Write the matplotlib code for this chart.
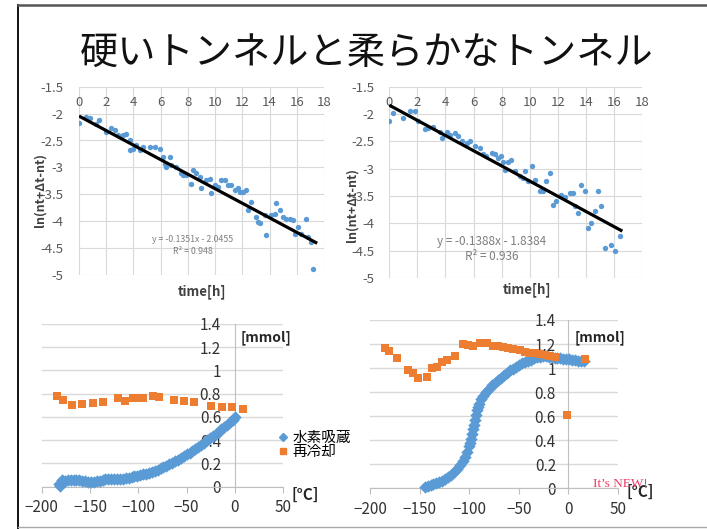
import numpy as np
import matplotlib
matplotlib.use("Agg")
import matplotlib.pyplot as plt
from matplotlib.lines import Line2D

plt.rcParams['font.family'] = ['Noto Sans CJK JP', 'DejaVu Sans']
plt.rcParams['axes.unicode_minus'] = False

W, H = 707, 529

TITLE = "硬いトンネルと柔らかなトンネル"

# ---- decay fits: hard tunnel (left) ----
hard_t = [0, 0.54, 0.8, 1.27, 1.47, 1.96, 2.38, 2.62, 2.87, 3.23, 3.48, 3.72, 3.72, 3.97,
          4.16, 4.46, 4.70, 5.19, 5.56, 5.93, 6.17, 6.29, 6.42, 6.66, 6.78, 7.15, 7.52,
          7.64, 7.89, 8.25, 8.38, 8.62, 8.87, 8.99, 9.36, 9.60, 9.72, 9.97, 10.21, 10.46,
          10.70, 10.95, 11.19, 11.44, 11.68, 11.80, 12.05, 12.29, 12.42, 12.66, 13.03,
          13.15, 13.27, 13.64, 13.76, 14.13, 14.38, 14.50, 14.74, 14.99, 15.23, 15.48,
          15.72, 15.85, 16.09, 16.34, 16.70, 16.83, 17.07, 17.19]
hard_v = [-2.17, -2.06, -2.08, -2.19, -2.11, -2.34, -2.26, -2.31, -2.40, -2.40, -2.38,
          -2.49, -2.67, -2.65, -2.59, -2.68, -2.62, -2.63, -2.62, -2.65, -2.80, -2.93,
          -2.99, -2.80, -2.96, -2.99, -3.11, -3.14, -3.14, -3.30, -3.05, -3.11, -3.18,
          -3.39, -3.24, -3.21, -3.48, -3.33, -3.36, -3.24, -3.24, -3.33, -3.33, -3.42,
          -3.39, -3.45, -3.45, -3.42, -3.79, -3.64, -3.92, -4.01, -4.04, -3.89, -4.26,
          -3.89, -3.86, -3.67, -3.79, -3.92, -3.95, -3.95, -3.98, -4.23, -4.10, -4.23,
          -3.95, -4.29, -4.38, -4.88]
hard_slope, hard_icpt, hard_end = -0.1351, -2.0455, 17.5
hard_eq = "y = -0.1351x - 2.0455"
hard_r2 = "R² = 0.948"

# ---- decay fits: soft tunnel (right) ----
soft_t = [0, 0.28, 1.00, 1.47, 1.83, 2.06, 2.54, 2.77, 3.13, 3.60, 3.72, 4.08, 4.32, 4.67,
          4.91, 5.15, 5.50, 5.74, 6.09, 6.45, 6.69, 6.92, 7.28, 7.52, 7.75, 7.99, 8.11,
          8.23, 8.47, 8.70, 8.94, 9.30, 9.53, 9.65, 9.89, 10.13, 10.36, 10.72, 10.96,
          11.19, 11.43, 11.67, 11.90, 12.26, 12.50, 12.85, 13.09, 13.21, 13.45, 13.68,
          13.92, 14.16, 14.39, 14.63, 14.87, 15.11, 15.34, 15.82, 16.05, 16.41]
soft_v = [-2.13, -1.98, -2.07, -1.95, -1.95, -2.13, -2.27, -2.26, -2.23, -2.32, -2.44,
          -2.32, -2.38, -2.35, -2.41, -2.50, -2.53, -2.50, -2.59, -2.62, -2.74, -2.77,
          -2.71, -2.74, -2.80, -2.77, -2.87, -3.02, -2.87, -2.84, -3.05, -3.14, -3.17,
          -3.05, -3.23, -2.96, -3.20, -3.41, -3.41, -3.23, -3.08, -3.66, -3.60, -3.48,
          -3.51, -3.45, -3.45, -3.69, -3.81, -3.29, -3.41, -4.09, -4.00, -3.78, -3.41,
          -3.69, -4.45, -4.39, -4.51, -4.24]
soft_slope, soft_icpt, soft_end = -0.1388, -1.8384, 16.6
soft_eq = "y = -0.1388x - 1.8384"
soft_r2 = "R² = 0.936"

top_xticks = [0, 2, 4, 6, 8, 10, 12, 14, 16, 18]
top_yticks = [-1.5, -2, -2.5, -3, -3.5, -4, -4.5, -5]
top_yticklabels = ["-1.5", "-2", "-2.5", "-3", "-3.5", "-4", "-4.5", "-5"]

# ---- hydrogen uptake vs temperature ----
bot_xticks = [-200, -150, -100, -50, 0, 50]
bot_xticklabels = ["−200", "−150", "−100", "−50", "0", "50"]
bot_yticks = [0, 0.2, 0.4, 0.6, 0.8, 1.0, 1.2, 1.4]
bot_yticklabels = ["0", "0.2", "0.4", "0.6", "0.8", "1", "1.2", "1.4"]
series_names = ["水素吸蔵", "再冷却"]

hard_abs_T = [-182, -181, -180, -179, -178, -176, -173, -170, -167, -164, -161, -158,
              -155, -152, -149, -146, -143, -140, -137, -134, -131, -128, -125, -122,
              -119, -116, -113, -110, -107, -104, -101, -98, -95, -92, -89, -86, -83,
              -80, -77, -74, -71, -68, -65, -62, -59, -56, -53, -50, -47, -44, -41, -38,
              -35, -32, -29, -26, -23, -20, -17, -14, -11, -8, -5, -2, 0]
hard_abs_n = [0.02, 0.01, 0.035, 0.06, 0.045, 0.05, 0.055, 0.058, 0.06, 0.06, 0.058,
              0.05, 0.045, 0.042, 0.04, 0.042, 0.045, 0.05, 0.055, 0.062, 0.068, 0.07,
              0.068, 0.066, 0.068, 0.07, 0.074, 0.078, 0.083, 0.088, 0.094, 0.1, 0.106,
              0.113, 0.12, 0.128, 0.137, 0.147, 0.157, 0.168, 0.18, 0.192, 0.205, 0.218,
              0.232, 0.247, 0.262, 0.278, 0.294, 0.31, 0.327, 0.344, 0.362, 0.38, 0.398,
              0.417, 0.436, 0.455, 0.474, 0.494, 0.514, 0.534, 0.555, 0.577, 0.6]
hard_cool_T = [-183.8, -178.3, -169.0, -158.6, -147.2, -136.2, -121.4, -113.8, -105.2,
               -100.0, -94.8, -84.5, -78.3, -63.1, -52.8, -42.4, -25.2, -13.8, -3.4, 7.9]
hard_cool_n = [0.780, 0.746, 0.703, 0.711, 0.723, 0.726, 0.760, 0.740, 0.760, 0.760,
               0.760, 0.780, 0.769, 0.746, 0.737, 0.726, 0.697, 0.688, 0.683, 0.668]

soft_abs_T = [-145, -142, -139, -136, -133, -130, -127, -124, -121, -118, -115, -112,
              -109, -106, -104, -102, -100, -99, -98, -97, -96, -95, -94, -93, -92, -91,
              -90, -88, -86, -83, -80, -77, -74, -71, -68, -65, -62, -59, -56, -53, -50,
              -47, -44, -41, -38, -35, -32, -29, -26, -23, -20, -17, -14, -11, -8, -5, -2,
              1, 4, 7, 10, 13, 16]
soft_abs_n = [0.01, 0.02, 0.03, 0.035, 0.04, 0.05, 0.06, 0.075, 0.09, 0.11, 0.135, 0.16,
              0.19, 0.225, 0.26, 0.3, 0.35, 0.38, 0.41, 0.45, 0.49, 0.53, 0.57, 0.61,
              0.65, 0.68, 0.70, 0.74, 0.77, 0.80, 0.83, 0.86, 0.88, 0.90, 0.92, 0.94,
              0.96, 0.98, 0.995, 1.01, 1.025, 1.04, 1.05, 1.06, 1.07, 1.08, 1.09, 1.095,
              1.1, 1.098, 1.095, 1.092, 1.088, 1.084, 1.08, 1.078, 1.075, 1.073, 1.07,
              1.066, 1.062, 1.058, 1.055]
soft_cool_T = [-184.9, -180.5, -173.1, -161.3, -156.3, -151.3, -142.9, -137.8, -132.8,
               -127.7, -122.7, -114.3, -105.9, -100.8, -95.8, -89.1, -82.4, -75.6, -70.6,
               -65.5, -60.5, -55.5, -48.7, -43.7, -38.7, -33.6, -28.6, -23.5, -18.5,
               -13.4, -1.7, 16.8]
soft_cool_n = [1.164, 1.145, 1.087, 0.984, 0.956, 0.915, 0.929, 0.998, 1.012, 1.054,
               1.067, 1.101, 1.198, 1.192, 1.184, 1.206, 1.206, 1.184, 1.184, 1.173,
               1.164, 1.156, 1.151, 1.137, 1.128, 1.123, 1.115, 1.109, 1.103, 1.095,
               0.610, 1.073]

BLUE = '#5b9bd5'
ORANGE = '#ed7d31'
GRID = '#d9d9d9'


def px_rect(x0, y0, x1, y1):
    """Convert a pixel box (top-left origin) into figure fractions."""
    return [x0 / W, 1 - y1 / H, (x1 - x0) / W, (y1 - y0) / H]


fig = plt.figure(figsize=(W / 100, H / 100), dpi=100)
fig.patch.set_facecolor('white')

# slide frame
fig.add_artist(Line2D([18 / W, 18 / W], [0, 1 - 5 / H], transform=fig.transFigure,
                      color='#111111', lw=1.4))
fig.add_artist(Line2D([18 / W, 1], [1 - 5 / H, 1 - 5 / H], transform=fig.transFigure,
                      color='#555555', lw=1.8))
fig.add_artist(Line2D([18 / W, 1], [1 - 527 / H, 1 - 527 / H], transform=fig.transFigure,
                      color='#aaaaaa', lw=1.0))

fig.text(367 / W, 1 - 53 / H, TITLE, ha='center', va='center', fontsize=27.5,
         color='#111111')


def decay_panel(rect, t, v, slope, icpt, t_end, eq, r2, eq_xy, eq_size, ylab_xy, xlab_xy):
    ax = fig.add_axes(px_rect(*rect))
    ax.set_xlim(0, 18)
    ax.set_ylim(-5, -1.5)
    ax.set_xticks(top_xticks)
    ax.set_yticks(top_yticks)
    ax.set_yticklabels(top_yticklabels)
    ax.grid(True, color=GRID, lw=0.8)
    ax.set_axisbelow(True)
    for s in ax.spines.values():
        s.set_visible(False)
    ax.xaxis.tick_top()
    ax.tick_params(axis='x', length=0, pad=-16, labelsize=9.5, colors='#595959')
    ax.tick_params(axis='y', length=0, pad=11, labelsize=9.5, colors='#595959')
    ax.scatter(t, v, s=15, color=BLUE, zorder=2, linewidths=0)
    ax.plot([0, t_end], [icpt, icpt + slope * t_end], color='black', lw=2.3, zorder=3,
            solid_capstyle='butt')
    fig.text(eq_xy[0] / W, 1 - eq_xy[1] / H, eq, ha='center', va='center',
             fontsize=eq_size, color='#7f7f7f')
    fig.text(eq_xy[0] / W, 1 - (eq_xy[1] + eq_size * 1.75) / H, r2, ha='center',
             va='center', fontsize=eq_size, color='#7f7f7f')
    fig.text(ylab_xy[0] / W, 1 - ylab_xy[1] / H, "ln(nt+Δt-nt)", rotation=90,
             ha='center', va='center', fontsize=9, fontweight='bold', color='#404040')
    fig.text(xlab_xy[0] / W, 1 - xlab_xy[1] / H, "time[h]", ha='center', va='center',
             fontsize=9.5, fontweight='bold', color='#404040')
    return ax


decay_panel((79, 86.7, 324, 275), hard_t, hard_v, hard_slope, hard_icpt, hard_end,
            hard_eq, hard_r2, (193, 240), 6.3, (40, 190), (202, 292))
decay_panel((389.3, 86.7, 642, 278), soft_t, soft_v, soft_slope, soft_icpt, soft_end,
            soft_eq, soft_r2, (492, 242), 8.5, (352, 205), (527, 290))


def uptake_panel(rect, absT, absN, coolT, coolN, ypad):
    ax = fig.add_axes(px_rect(*rect))
    ax.set_xlim(-200, 50)
    ax.set_ylim(0, 1.4)
    ax.set_xticks(bot_xticks)
    ax.set_xticklabels(bot_xticklabels)
    ax.set_yticks(bot_yticks)
    ax.set_yticklabels(bot_yticklabels)
    ax.grid(True, axis='y', color=GRID, lw=1.0)
    ax.set_axisbelow(True)
    ax.spines['top'].set_visible(False)
    ax.spines['right'].set_visible(False)
    ax.spines['left'].set_position(('data', 0))
    ax.spines['left'].set_color('#bfbfbf')
    ax.spines['bottom'].set_color('#bfbfbf')
    ax.tick_params(axis='x', length=4, color='#bfbfbf', pad=5, labelsize=11,
                   labelcolor='#333333')
    ax.tick_params(axis='y', length=0, pad=ypad, labelsize=11, labelcolor='#333333')
    ax.patch.set_alpha(0)
    h1 = ax.scatter(absT, absN, marker='D', s=40, color=BLUE, linewidths=0,
                    zorder=3, clip_on=False)
    h2 = ax.scatter(coolT, coolN, marker='s', s=36, color=ORANGE, linewidths=0,
                    zorder=4, clip_on=False)
    return ax, h1, h2


axL, h1, h2 = uptake_panel((41.7, 324, 283.3, 486.7), hard_abs_T, hard_abs_n,
                           hard_cool_T, hard_cool_n, 10)
axR, _, _ = uptake_panel((370, 320, 618, 488.3), soft_abs_T, soft_abs_n,
                         soft_cool_T, soft_cool_n, 9)

leg_handles = [Line2D([], [], marker='D', ls='none', color=BLUE, markersize=4),
               Line2D([], [], marker='s', ls='none', color=ORANGE, markersize=4.5)]
fig.legend(leg_handles, series_names, loc='upper left',
           bbox_to_anchor=(271 / W, 1 - 422 / H), frameon=False, fontsize=10.5,
           handlelength=0.5, handletextpad=0.35, labelspacing=0.0, borderpad=0.1)

for x, y in [(265.5, 338), (600, 338)]:
    fig.text(x / W, 1 - y / H, "[mmol]", ha='center', va='center', fontsize=10,
             fontweight='bold', color='#262626')
for x, y in [(305, 495), (640, 492)]:
    fig.text(x / W, 1 - y / H, "[°C]", ha='center', va='center', fontsize=11,
             fontweight='bold', color='#262626')

fig.text(620 / W, 1 - 484 / H, "It’s NEW!", ha='center', va='center', fontsize=9.5,
         color='#ea3b62', family=['Liberation Serif', 'DejaVu Serif'], zorder=10)

fig.savefig("out.png", dpi=100)
